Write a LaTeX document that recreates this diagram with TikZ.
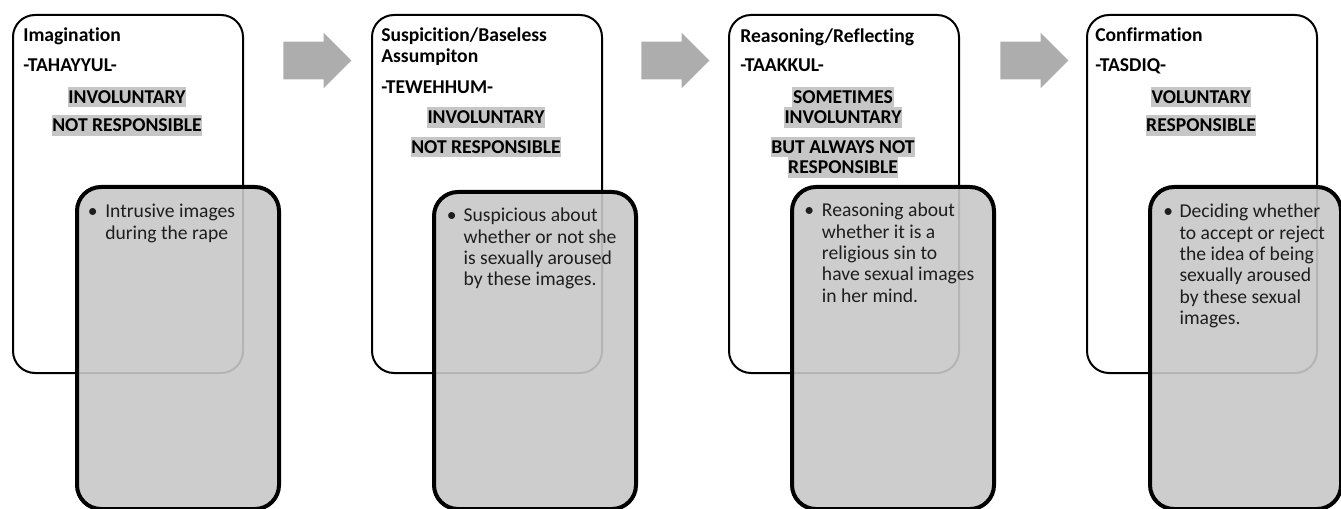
\documentclass[tikz,border=0pt]{standalone}
\usepackage{fontspec}
\setmainfont{Carlito}[Ligatures={NoCommon}]
\usetikzlibrary{shapes.arrows}
\definecolor{boxgray}{HTML}{C8C8C8}
\definecolor{hlgray}{HTML}{C6C6C6}
\definecolor{arrowgray}{HTML}{ADADAD}
\definecolor{txt}{HTML}{1E1E1E}
\begin{document}
\begin{tikzpicture}[x=0.75pt,y=-0.75pt,
  every node/.style={inner sep=0pt, font=\fontsize{14.7pt}{16pt}\selectfont},
  stage/.style={draw=black, line width=1.5pt, rounded corners=16.5pt, fill=white,
    anchor=north west, minimum width=172.5pt, minimum height=268.5pt},
  detail/.style={draw=black, line width=3pt, rounded corners=18pt, fill=boxgray,
    fill opacity=0.9, anchor=north west, minimum width=151.5pt},
  head/.style={anchor=base west, font=\fontsize{14.7pt}{16pt}\selectfont\bfseries},
  hl/.style={anchor=base, fill=hlgray, text height=9.4pt, text depth=0pt,
    inner ysep=3pt, inner xsep=0.5pt, font=\fontsize{14.7pt}{16pt}\selectfont\bfseries},
  body/.style={anchor=north west, align=left, text=txt},
  bul/.style={anchor=base, text=txt},
  flow/.style={single arrow, fill=arrowgray, draw=none, minimum height=51pt,
    minimum width=41.25pt, single arrow head extend=6.75pt, inner ysep=13.875pt, inner xsep=0pt}
]
\useasboundingbox (0,0) rectangle (1341,509);

% stage boxes
\node (s1) [stage] at (12,14) {};
\node (s2) [stage] at (371,14) {};
\node (s3) [stage] at (728,14) {};
\node (s4) [stage] at (1086,14) {};

% box 1 texts
\node (t1a) [head] at (23,41.7) {Imagination};
\node (t1b) [head] at (23,71.7) {-TAHAYYUL-};
\node (t1c) [hl] at (127,103.3) {INVOLUNTARY};
\node (t1d) [hl] at (127,131.7) {NOT RESPONSIBLE};

% box 2 texts
\node (t2a) [head] at (381,41.7) {Suspicition/Baseless};
\node (t2b) [head] at (381,62.7) {Assumpiton};
\node (t2c) [head] at (381,93.5) {-TEWEHHUM-};
\node (t2d) [hl] at (486,124) {INVOLUNTARY};
\node (t2e) [hl] at (486,153.3) {NOT RESPONSIBLE};

% box 3 texts
\node (t3a) [head] at (740,42.2) {Reasoning/Reflecting};
\node (t3b) [head] at (740,71.7) {-TAAKKUL-};
\node (t3c) [hl] at (843,103.3) {SOMETIMES\ };
\node (t3d) [hl] at (843,124) {INVOLUNTARY};
\node (t3e) [hl] at (843,153.3) {BUT ALWAYS NOT};
\node (t3f) [hl] at (843,174) {RESPONSIBLE};

% box 4 texts
\node (t4a) [head] at (1095,41.7) {Confirmation};
\node (t4b) [head] at (1095,71.7) {-TASDIQ-};
\node (t4c) [hl] at (1201,103.3) {VOLUNTARY};
\node (t4d) [hl] at (1201,131.7) {RESPONSIBLE};

% arrows
\node (a1) [flow] at (308,60.5) {};
\node (a2) [flow] at (666,60.5) {};
\node (a3) [flow] at (1025,60.5) {};

% detail boxes
\node (d1) [detail, minimum height=241.5pt] at (75,185) {};
\node (d2) [detail, minimum height=237.75pt] at (432,190) {};
\node (d3) [detail, minimum height=241.5pt] at (790,185) {};
\node (d4) [detail, minimum height=241.5pt, minimum width=143.25pt] at (1148,185) {};

% detail texts
\node (b1) [bul] at (92.7,217.7) {•};
\node (x1) [body] at (105,202.8) {\strut Intrusive images\\during the rape};
\node (b2) [bul] at (451.7,221.7) {•};
\node (x2) [body] at (463.3,206.8) {\strut Suspicious about\\whether or not she\\is sexually aroused\\by these images.};
\node (b3) [bul] at (809.3,216.7) {•};
\node (x3) [body] at (821.7,201.8) {\strut Reasoning about\\whether it is a\\religious sin to\\have sexual images\\in her mind.};
\node (b4) [bul] at (1168.3,217.7) {•};
\node (x4) [body] at (1179.3,202.8) {\strut Deciding whether\\to accept or reject\\the idea of being\\sexually aroused\\by these sexual\\images.};
\end{tikzpicture}
\end{document}
